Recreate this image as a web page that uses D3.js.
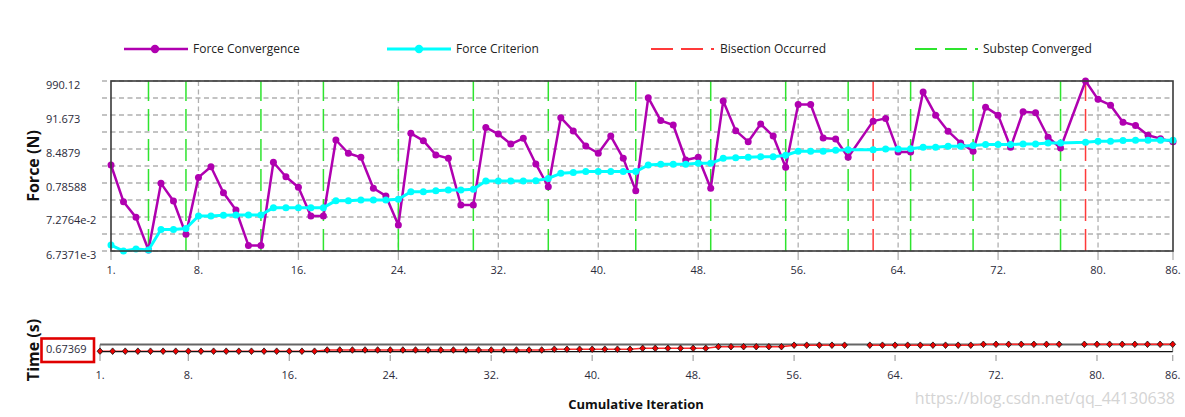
<!DOCTYPE html>
<html><head><meta charset="utf-8">
<script src="https://cdn.jsdelivr.net/npm/d3@7"></script>
<style>
body{margin:0;background:#fff}
svg{display:block}
text{font-family:"Open Sans","Noto Sans",sans-serif}
</style>
</head><body>
<svg id="c" width="1185" height="417"></svg>
<script>
// ---------- data ----------
const iterations = d3.range(1, 87);
const forceConvergence = [
  2.77, 0.212, 0.0710, 0.00724, 0.767, 0.223, 0.0216, 1.164, 2.46, 0.399,
  0.1186, 0.00998, 0.00998, 3.36, 1.22, 0.584, 0.0781, 0.0781, 15.95, 6.30,
  4.74, 0.544, 0.318, 0.0416, 25.4, 15.2, 5.60, 4.41, 0.169, 0.169,
  38.5, 24.2, 11.98, 17.96, 2.98, 0.605, 75.8, 30.0, 10.5, 6.30,
  20.97, 4.41, 0.460, 308.5, 61.9, 45.4, 3.92, 4.74, 0.544, 243.2,
  30.7, 14.16, 48.8, 20.97, 2.35, 191.7, 191.7, 18.4, 17.1, 4.74,
  null, 59.7, 72.3, 6.93, 6.93, 456.8, 90.6, 29.6, 13.0, 7.27,
  158.5, 90.6, 9.56, 114.9, 107.0, 19.3, 9.12, null, 990.12, 273.9,
  182.8, 55.6, 43.8, 22.3, 17.5, 14.0
];
const forceCriterion = [
  0.01022, 0.0067371, 0.00777, 0.00724, 0.0305, 0.0305, 0.0328, 0.0781, 0.0781, 0.0820,
  0.0839, 0.0839, 0.0839, 0.140, 0.140, 0.140, 0.140, 0.140, 0.228, 0.228,
  0.239, 0.239, 0.239, 0.251, 0.428, 0.428, 0.460, 0.483, 0.483, 0.506,
  0.906, 0.906, 0.906, 0.906, 0.928, 1.084, 1.548, 1.643, 1.745, 1.745,
  1.745, 1.745, 1.745, 2.77, 2.91, 2.91, 2.91, 3.12, 3.12, 4.41,
  4.63, 4.74, 4.97, 4.97, 5.47, 7.27, 7.27, 7.27, 7.81, 8.09,
  null, 8.09, 8.49, 8.49, 8.69, 9.56, 9.56, 10.27, 10.27, 10.77,
  11.57, 11.57, 11.57, 12.13, 12.13, 13.0, 13.0, null, 13.66, 14.68,
  14.68, 15.39, 15.76, 15.76, 15.76, 15.76
];
const timeValues = [
  0.600, 0.600, 0.600, 0.600, 0.600, 0.600, 0.600, 0.600, 0.600, 0.600,
  0.600, 0.600, 0.600, 0.600, 0.600, 0.600, 0.600, 0.600, 0.640, 0.640,
  0.640, 0.640, 0.640, 0.640, 0.640, 0.640, 0.640, 0.640, 0.640, 0.640,
  0.640, 0.640, 0.640, 0.640, 0.640, 0.640, 0.667, 0.667, 0.667, 0.667,
  0.667, 0.667, 0.667, 0.697, 0.697, 0.697, 0.697, 0.697, 0.697, 0.750,
  0.750, 0.750, 0.750, 0.750, 0.750, 0.800, 0.800, 0.800, 0.800, 0.800,
  null, 0.800, 0.800, 0.800, 0.800, 0.800, 0.800, 0.800, 0.800, 0.800,
  0.830, 0.830, 0.830, 0.830, 0.830, 0.830, 0.830, null, 0.830, 0.830,
  0.830, 0.830, 0.830, 0.830, 0.830, 0.830
];
const substepConverged = [4, 7, 13, 18, 24, 30, 36, 43, 49, 55, 60, 65, 70, 77];
const bisectionOccurred = [62, 79];
const xTickValues = [1, 8, 16, 24, 32, 40, 48, 56, 64, 72, 80, 86];
const xTickLabels = ["1.", "8.", "16.", "24.", "32.", "40.", "48.", "56.", "64.", "72.", "80.", "86."];
const yTickValues = [0.0067371, 0.072764, 0.78588, 8.4879, 91.673, 990.12];
const yTickLabels = ["6.7371e-3", "7.2764e-2", "0.78588", "8.4879", "91.673", "990.12"];
const timeTickValues = [0.67369];
const timeTickLabels = ["0.67369"];
const legendNames = ["Force Convergence", "Force Criterion", "Bisection Occurred", "Substep Converged"];

// ---------- styles ----------
const C = {mag: "#b000b0", cyan: "#00ffff", green: "#2ee42e", red: "#ff3a3a", grid: "#b0b0b0", frame: "#3a3a3a", text: "#2b2b3a"};

const svg = d3.select("#c");
const M = {left: 111, right: 1173, top: 81, bottom: 251};
const x = d3.scaleLinear().domain([1, 86]).range([M.left, M.right]);
const y = d3.scaleLog().domain([yTickValues[0], yTickValues[5]]).range([M.bottom, M.top]);

// horizontal grid (10 divisions of the log range)
const lmin = Math.log10(yTickValues[0]), lmax = Math.log10(yTickValues[5]);
const gridVals = d3.range(0, 11).map(k => Math.pow(10, lmin + k * (lmax - lmin) / 10));
svg.append("g").selectAll("line").data(gridVals).join("line")
  .attr("x1", 102).attr("x2", M.right)
  .attr("y1", d => y(d)).attr("y2", d => y(d))
  .attr("stroke", C.grid).attr("stroke-width", 1.3).attr("stroke-dasharray", "5,3.5");

// vertical grid
svg.append("g").selectAll("line").data(xTickValues.slice(1, -1)).join("line")
  .attr("x1", d => x(d)).attr("x2", d => x(d))
  .attr("y1", M.top).attr("y2", M.bottom)
  .attr("stroke", C.grid).attr("stroke-width", 1.3).attr("stroke-dasharray", "5,3.5");
// x tick marks
svg.append("g").selectAll("line").data(xTickValues).join("line")
  .attr("x1", d => x(d)).attr("x2", d => x(d))
  .attr("y1", M.bottom).attr("y2", M.bottom + 9)
  .attr("stroke", C.grid).attr("stroke-width", 1.3);

// substep / bisection lines (drawn bottom-up)
svg.append("g").selectAll("line").data(substepConverged).join("line")
  .attr("x1", d => x(d)).attr("x2", d => x(d))
  .attr("y1", M.bottom).attr("y2", M.top)
  .attr("stroke", C.green).attr("stroke-width", 1.5).attr("stroke-dasharray", "22,8");
svg.append("g").selectAll("line").data(bisectionOccurred).join("line")
  .attr("x1", d => x(d)).attr("x2", d => x(d))
  .attr("y1", M.bottom).attr("y2", M.top)
  .attr("stroke", C.red).attr("stroke-width", 1.5).attr("stroke-dasharray", "22,8");

// series
function seriesPts(vals) {
  return iterations.map((it, i) => ({it, v: vals[i]})).filter(d => d.v != null);
}
const line = d3.line().x(d => x(d.it)).y(d => y(d.v));
const fcPts = seriesPts(forceConvergence);
const crPts = seriesPts(forceCriterion);
svg.append("path").datum(fcPts).attr("d", line).attr("fill", "none")
  .attr("stroke", C.mag).attr("stroke-width", 2.5).attr("stroke-linejoin", "round");
svg.append("g").selectAll("circle").data(fcPts).join("circle")
  .attr("cx", d => x(d.it)).attr("cy", d => y(d.v)).attr("r", 3.5).attr("fill", C.mag);
svg.append("path").datum(crPts).attr("d", line).attr("fill", "none")
  .attr("stroke", C.cyan).attr("stroke-width", 3).attr("stroke-linejoin", "round");
svg.append("g").selectAll("circle").data(crPts).join("circle")
  .attr("cx", d => x(d.it)).attr("cy", d => y(d.v)).attr("r", 3.5).attr("fill", C.cyan);

// frame
svg.append("rect").attr("x", M.left).attr("y", M.top)
  .attr("width", M.right - M.left).attr("height", M.bottom - M.top)
  .attr("fill", "none").attr("stroke", C.frame).attr("stroke-width", 1.6);

// y labels
svg.append("g").selectAll("text").data(yTickValues).join("text")
  .attr("x", 46).attr("y", d => y(d) + 7.5)
  .attr("font-size", 11).attr("fill", C.text)
  .text((d, i) => yTickLabels[i]);
// x labels
svg.append("g").selectAll("text").data(xTickValues).join("text")
  .attr("x", d => x(d)).attr("y", 274).attr("text-anchor", "middle")
  .attr("font-size", 11).attr("fill", C.text)
  .text((d, i) => xTickLabels[i]);

svg.append("text").attr("transform", "translate(39,166) rotate(-90)")
  .attr("text-anchor", "middle").attr("font-size", 16).attr("font-weight", "bold")
  .attr("fill", "#111").text("Force (N)");

// legend
const LY = 49;
const legend = svg.append("g");
legend.append("line").attr("x1", 124).attr("x2", 188).attr("y1", LY).attr("y2", LY)
  .attr("stroke", C.mag).attr("stroke-width", 2.5);
legend.append("circle").attr("cx", 155).attr("cy", LY).attr("r", 4.2).attr("fill", C.mag);
legend.append("line").attr("x1", 387).attr("x2", 451).attr("y1", LY).attr("y2", LY)
  .attr("stroke", C.cyan).attr("stroke-width", 3);
legend.append("circle").attr("cx", 419).attr("cy", LY).attr("r", 4.2).attr("fill", C.cyan);
legend.append("line").attr("x1", 651).attr("x2", 714).attr("y1", LY).attr("y2", LY)
  .attr("stroke", C.red).attr("stroke-width", 1.8).attr("stroke-dasharray", "22,8");
legend.append("line").attr("x1", 915).attr("x2", 978).attr("y1", LY).attr("y2", LY)
  .attr("stroke", C.green).attr("stroke-width", 1.8).attr("stroke-dasharray", "22,8");
legend.selectAll("text").data(legendNames).join("text")
  .attr("x", (d, i) => [193, 456, 720, 983][i]).attr("y", LY + 4)
  .attr("font-size", 12).attr("fill", "#222").text(d => d);

// ---------- time chart ----------
const T = {left: 100, right: 1172.7, top: 344.5, bottom: 351.7};
const xt = d3.scaleLinear().domain([1, 86]).range([T.left, T.right]);
const yt = d3.scaleLinear().domain([0.600, 0.830]).range([351.2, 344.3]);

svg.append("line").attr("x1", T.left).attr("x2", T.right).attr("y1", T.top).attr("y2", T.top)
  .attr("stroke", "#666").attr("stroke-width", 2);
svg.append("line").attr("x1", T.left).attr("x2", T.left).attr("y1", T.top).attr("y2", T.bottom)
  .attr("stroke", "#777").attr("stroke-width", 1);
svg.append("line").attr("x1", T.right).attr("x2", T.right).attr("y1", T.top).attr("y2", T.bottom)
  .attr("stroke", "#777").attr("stroke-width", 1);

const tPts = iterations.map((it, i) => ({it, v: timeValues[i]}));
svg.append("path").datum(tPts)
  .attr("d", d3.line().defined(d => d.v != null).x(d => xt(d.it)).y(d => yt(d.v)))
  .attr("fill", "none").attr("stroke", "#ff2a2a").attr("stroke-width", 1.6);
svg.append("line").attr("x1", T.left).attr("x2", T.right).attr("y1", T.bottom).attr("y2", T.bottom)
  .attr("stroke", "#111").attr("stroke-width", 1.2);

svg.append("g").selectAll("line").data(xTickValues).join("line")
  .attr("x1", d => xt(d)).attr("x2", d => xt(d))
  .attr("y1", 355).attr("y2", 361)
  .attr("stroke", "#aaa").attr("stroke-width", 1.3);

svg.append("g").selectAll("path").data(tPts.filter(d => d.v != null)).join("path")
  .attr("transform", d => `translate(${xt(d.it)},${yt(d.v)})`)
  .attr("d", "M0,-3.3L2.9,0L0,3.3L-2.9,0Z")
  .attr("fill", "#ee0000").attr("stroke", "#111").attr("stroke-width", 0.8);

svg.append("g").selectAll("text").data(xTickValues).join("text")
  .attr("x", d => xt(d)).attr("y", 379).attr("text-anchor", "middle")
  .attr("font-size", 11).attr("fill", C.text)
  .text((d, i) => xTickLabels[i]);

svg.append("g").selectAll("text").data(timeTickValues).join("text")
  .attr("x", 46).attr("y", d => yt(d) + 4)
  .attr("font-size", 11).attr("fill", C.text)
  .text((d, i) => timeTickLabels[i]);
svg.append("rect").attr("x", 41.5).attr("y", 338.5).attr("width", 52.5).attr("height", 23.5)
  .attr("fill", "none").attr("stroke", "#e00000").attr("stroke-width", 2.6);

svg.append("text").attr("transform", "translate(39,350) rotate(-90)")
  .attr("text-anchor", "middle").attr("font-size", 16).attr("font-weight", "bold")
  .attr("fill", "#111").text("Time (s)");

svg.append("text").attr("x", 636).attr("y", 409).attr("text-anchor", "middle")
  .attr("font-size", 13).attr("font-weight", "bold").attr("fill", "#111")
  .text("Cumulative Iteration");

svg.append("text").attr("x", 1175).attr("y", 404).attr("text-anchor", "end")
  .attr("font-family", "Liberation Sans, Arial, sans-serif")
  .attr("font-size", 16).attr("fill", "#d4d4d4")
  .text("https://blog.csdn.net/qq_44130638");
</script>
</body></html>
